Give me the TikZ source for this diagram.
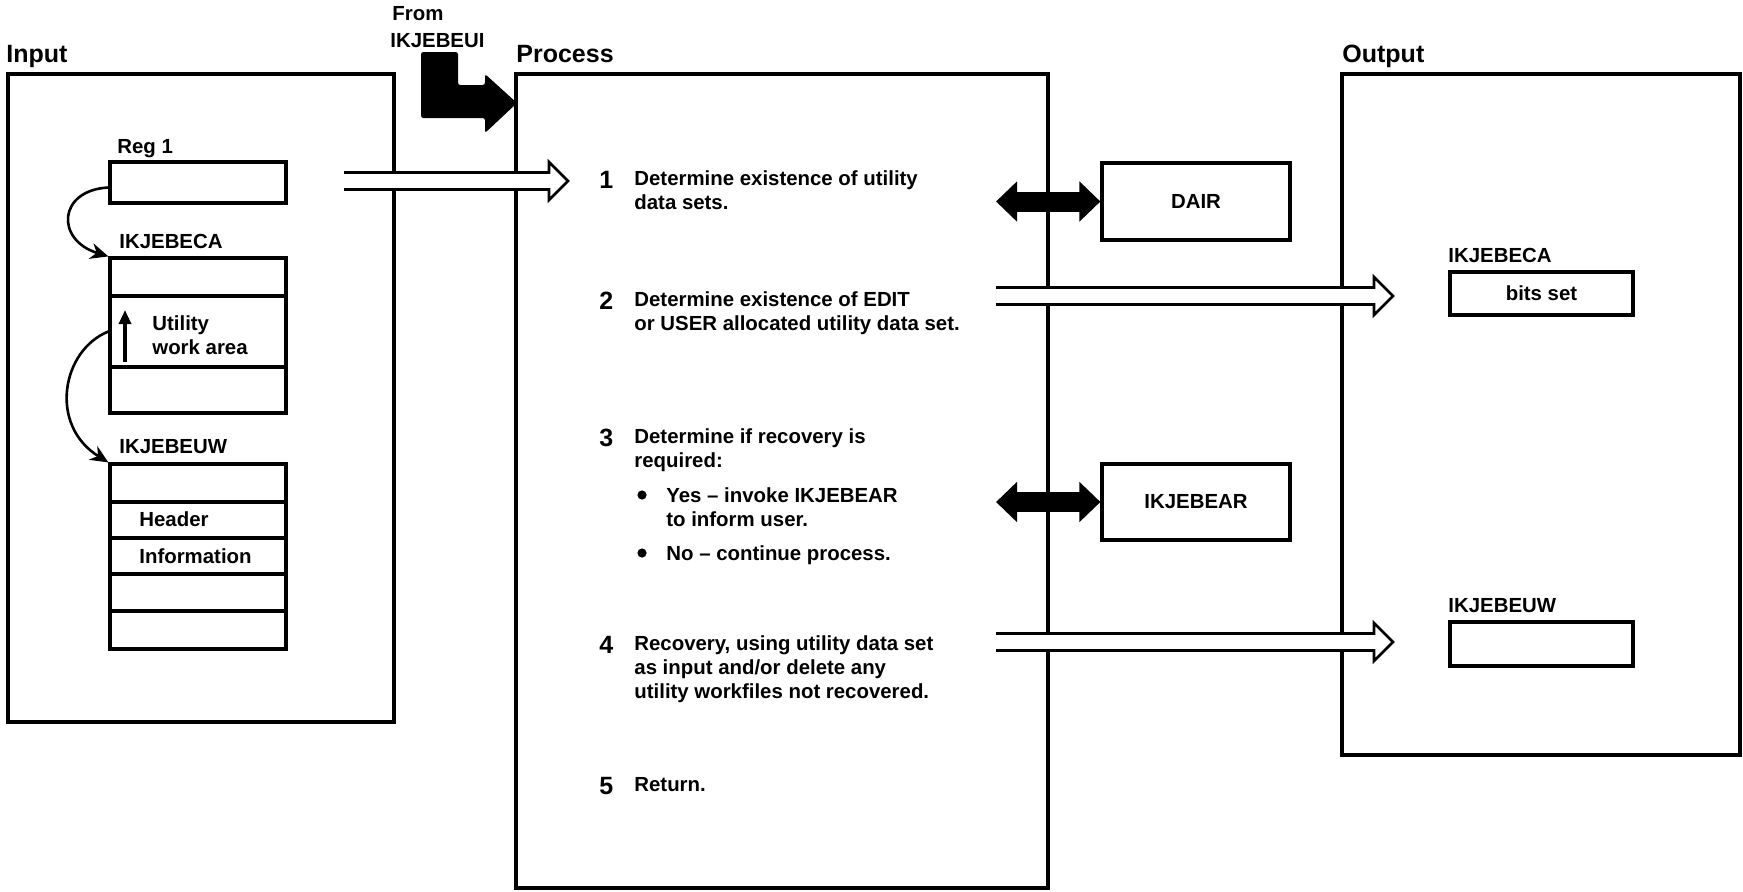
\documentclass[tikz,border=0pt]{standalone}
\usepackage{fontspec}
\setmainfont{Liberation Sans}
\usetikzlibrary{arrows.meta,fit,calc}
\newcommand\HollowArr[2]{%
  \path[hollow] let \p1=(#1), \p2=(#2) in
    (\x1,\y2+4.25pt) -- (\x2-9.5pt,\y2+4.25pt) -- (\x2-9.5pt,\y2+9.5pt) -- (\x2,\y2)
    -- (\x2-9.5pt,\y2-9.5pt) -- (\x2-9.5pt,\y2-4.25pt) -- (\x1,\y2-4.25pt);}
\newcommand\Lines[1]{\begin{tabular}[t]{@{}l@{}}#1\end{tabular}}
\begin{document}
\begin{tikzpicture}[x=0.5pt,y=-0.5pt,
  every node/.style={font=\bfseries\fontsize{10.2}{12}\selectfont, inner sep=0pt},
  box/.style={draw, line width=1.6pt, inner sep=0pt},
  title/.style={anchor=base west, font=\bfseries\fontsize{12.5}{14}\selectfont},
  lbl/.style={anchor=base west},
  num/.style={anchor=base west, font=\bfseries\fontsize{12.5}{14}\selectfont},
  hollow/.style={draw, fill=white, line width=1.3pt, line join=miter},
  bidir/.style={line width=10pt, {Triangle[length=10.5pt,width=19.5pt]}-{Triangle[length=10.5pt,width=19.5pt]}},
  link/.style={line width=1.3pt, -{Stealth[length=9pt,width=8pt]}},
  bigarrow/.style={fill=black, rounded corners=1.2pt},
  dot/.style={fill=black},
]
\useasboundingbox (0,0) rectangle (1743,891);

% titles
\node[title] (tin) at (6,62) {Input};
\node[title] (tpr) at (516,62) {Process};
\node[title] (tout) at (1342,62) {Output};
\node[lbl] (from1) at (392,20) {From};
\node[lbl] (from2) at (390,47) {IKJEBEUI};

% main boxes
\node[box, fit={(8,74) (394,722)}] (inbox) {};
\node[box, fit={(516,74) (1048,888)}] (procbox) {};
\node[box, fit={(1342,74) (1740,755)}] (outbox) {};

% input contents
\node[lbl] (reglbl) at (117,153) {Reg 1};
\node[box, fit={(110,162) (286,203)}] (reg1) {};
\node[lbl] (ecalbl) at (119,248) {IKJEBECA};
\node[box, fit={(110,258) (286,296)}] (ecaA) {};
\node[box, fit={(110,296) (286,367)}] (ecaB) {};
\node[box, fit={(110,367) (286,413)}] (ecaC) {};
\node[lbl] (util) at (152,330) {\Lines{Utility\\work area}};
\coordinate (ua1) at (125,362);
\coordinate (ua2) at (125,310);
\draw[line width=1.6pt, -{Triangle[length=7pt,width=6pt]}] (ua1) -- (ua2);

\node[lbl] (euwlbl) at (119,453) {IKJEBEUW};
\node[box, fit={(110,464) (286,502)}] (euwA) {};
\node[box, fit={(110,502) (286,538)}] (euwB) {};
\node[box, fit={(110,538) (286,574)}] (euwC) {};
\node[box, fit={(110,574) (286,611)}] (euwD) {};
\node[box, fit={(110,611) (286,649)}] (euwE) {};
\node[lbl] (hdr) at (139,526) {Header};
\node[lbl] (info) at (139,563) {Information};

\draw[link] ([yshift=-2.5pt]reg1.west) .. controls (58,190) and (55,240) .. (ecaA.north west);
\draw[link] (ecaB.west) .. controls (62,350) and (48,425) .. (euwA.north west);

% process steps
\node[num] (n1) at (599,188) {1};
\node[lbl] (s1) at (634,185) {\Lines{Determine existence of utility\\data sets.}};
\node[num] (n2) at (599,309) {2};
\node[lbl] (s2) at (634,306) {\Lines{Determine existence of EDIT\\or USER allocated utility data set.}};
\node[num] (n3) at (599,446) {3};
\node[lbl] (s3) at (634,443) {\Lines{Determine if recovery is\\required:}};
\fill[dot] (642,495) circle (2.3pt);
\node[lbl] (s3a) at (666,502) {\Lines{Yes -- invoke IKJEBEAR\\to inform user.}};
\fill[dot] (642,553) circle (2.3pt);
\node[lbl] (s3b) at (666,560) {No -- continue process.};
\node[num] (n4) at (599,653) {4};
\node[lbl] (s4) at (634,650) {\Lines{Recovery, using utility data set\\as input and/or delete any\\utility workfiles not recovered.}};
\node[num] (n5) at (599,794) {5};
\node[lbl] (s5) at (634,791) {Return.};

% side boxes
\node[box, fit={(1102,163) (1290,240)}] (dair) {};
\node (dairtxt) at (dair.center) {DAIR};
\node[box, fit={(1102,464) (1290,540)}] (bear) {};
\node (beartxt) at (bear.center) {IKJEBEAR};

% output contents
\node[lbl] (oecalbl) at (1448,262) {IKJEBECA};
\node[box, fit={(1450,272) (1633,315)}] (oeca) {};
\node (oecatxt) at (oeca.center) {bits set};
\node[lbl] (oeuwlbl) at (1448,612) {IKJEBEUW};
\node[box, fit={(1450,622) (1633,666)}] (oeuw) {};

% hollow arrows
\coordinate (a1s) at (344,181);
\coordinate (a1t) at (568,181);
\HollowArr{a1s}{a1t}
\coordinate (a2s) at (996,296);
\coordinate (a2t) at (1393,296);
\HollowArr{a2s}{a2t}
\coordinate (a4s) at (996,642);
\coordinate (a4t) at (1393,642);
\HollowArr{a4s}{a4t}

% black double arrows
\coordinate (d1) at (996,201.5);
\draw[bidir] (d1) -- (dair.west);
\coordinate (d3) at (996,502);
\draw[bidir] (d3) -- (bear.west);

% entry arrow from IKJEBEUI
\coordinate (ltip) at (517,103);
\fill[bigarrow] (421,52) -- (458,52) -- (458,85) -- (485,85) -- (485,74) -- (ltip)
  -- (485,133) -- (485,118) -- (421,118) -- cycle;
\end{tikzpicture}
\end{document}
